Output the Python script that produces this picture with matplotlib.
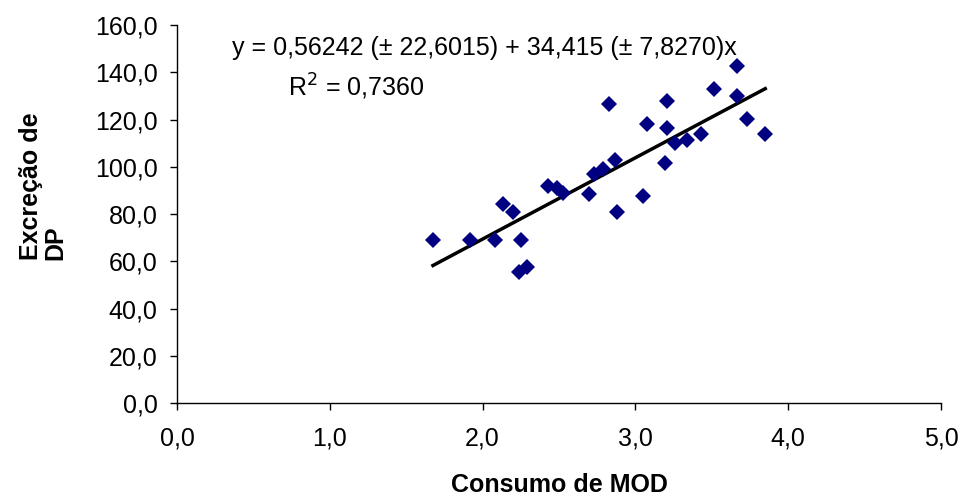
import numpy as np
import matplotlib.pyplot as plt

plt.rcParams['font.family'] = ['Liberation Sans', 'DejaVu Sans']

# consumo de MOD (x) and excrecao de DP (y)
consumo = [1.675, 1.92, 2.08, 2.253, 2.133, 2.20, 2.235, 2.29, 2.43, 2.49,
           2.525, 2.695, 2.88, 2.73, 2.786, 2.867, 2.826, 3.048, 3.074, 3.194,
           3.205, 3.205, 3.257, 3.335, 3.43, 3.516, 3.662, 3.665, 3.73, 3.85]
excrecao = [68.9, 68.9, 68.8, 68.9, 84.1, 80.8, 55.5, 57.6, 91.9, 90.8,
            88.7, 88.4, 81.0, 97.1, 99.2, 102.7, 126.4, 87.5, 118.0, 101.8,
            128.0, 116.2, 110.1, 111.2, 113.7, 133.1, 142.5, 129.9, 120.4, 113.7]

a, b = 0.56242, 34.415
eq_text = "y = 0,56242 (\u00b1 22,6015) + 34,415 (\u00b1 7,8270)x"
r2_text = "R$^2$ = 0,7360"

x_ticks = [0, 1, 2, 3, 4, 5]
y_ticks = [0, 20, 40, 60, 80, 100, 120, 140, 160]

fs = 18

fig = plt.figure(figsize=(9.59, 4.97), dpi=100)
ax = fig.add_axes([0.1846, 0.1891, 0.9812 - 0.1846, 0.9497 - 0.1891])

ax.plot(consumo, excrecao, 'D', color='#000080', ms=8.5, mew=0, zorder=3)
xl = np.array([min(consumo), max(consumo)])
ax.plot(xl, a + b * xl, color='black', lw=2.5, zorder=2)

ax.set_xlim(0, 5)
ax.set_ylim(0, 160)
ax.set_xticks(x_ticks)
ax.set_yticks(y_ticks)
ax.set_xticklabels([f"{v:.1f}".replace('.', ',') for v in x_ticks])
ax.set_yticklabels([f"{v:.1f}".replace('.', ',') for v in y_ticks])
ax.tick_params(direction='out', length=5, width=1, labelsize=fs)
ax.tick_params(axis='x', pad=12)
ax.tick_params(axis='y', pad=9)

for s in ['top', 'right']:
    ax.spines[s].set_visible(False)
for s in ['left', 'bottom']:
    ax.spines[s].set_linewidth(1)

ax.set_xlabel("Consumo de MOD", fontsize=fs, fontweight='bold', labelpad=16)
ax.set_ylabel("Excreção de\nDP", fontsize=fs, fontweight='bold', labelpad=20,
              linespacing=1.0, multialignment='left')
ax.yaxis.label.set_y(0.573)

ax.text(2.012, 150.3, eq_text, fontsize=fs, ha='center', va='center')
ax.text(1.171, 133.8, r2_text, fontsize=fs, ha='center', va='center')

fig.savefig('out.png', dpi=100)
